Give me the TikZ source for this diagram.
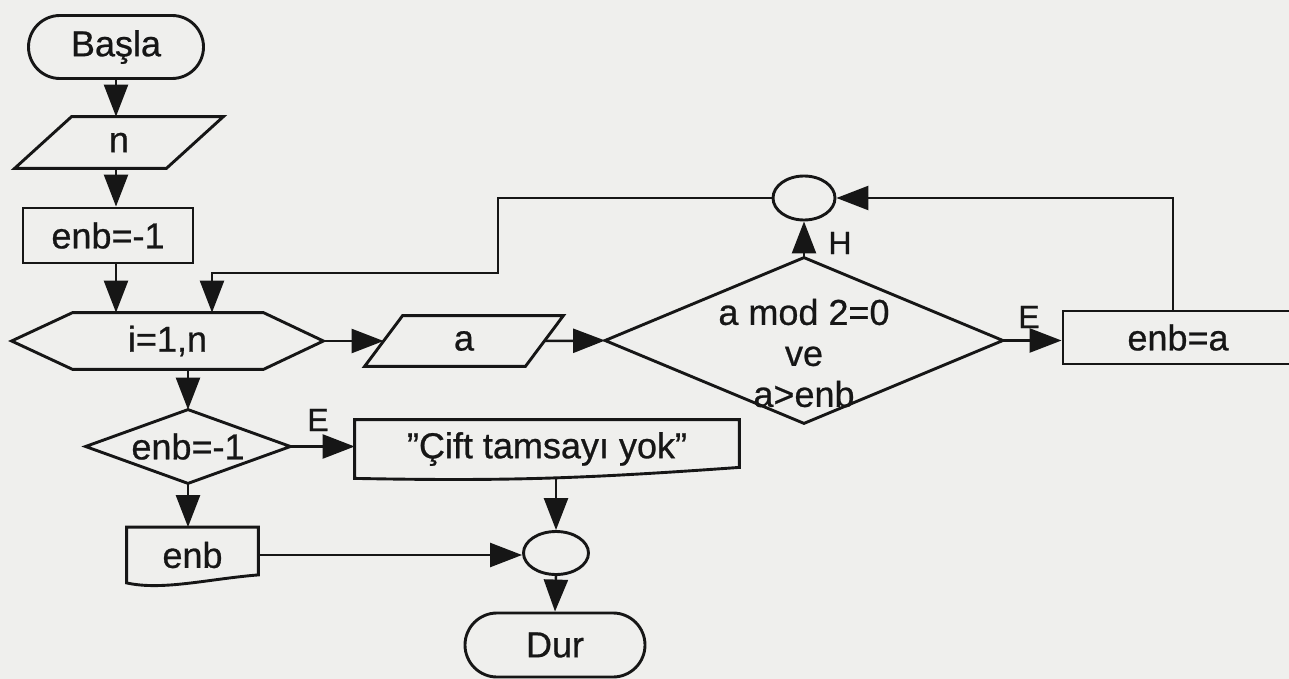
\documentclass[tikz,border=0pt]{standalone}
\usepackage{fontspec}
\setmainfont{Liberation Sans}[BoldFont={Liberation Sans},BoldFeatures={FakeBold=0.7}]
\usetikzlibrary{arrows.meta,shapes.misc,shapes.geometric}
\definecolor{paper}{RGB}{239,239,237}
\definecolor{ink}{RGB}{22,22,22}
\tikzset{
  base/.style={inner sep=0pt, font=\fontsize{18}{20.5}\selectfont\bfseries, text=ink},
  outline/.style={draw=ink, line width=1.45pt, line join=miter},
  term/.style={base, outline, rounded rectangle},
  procbox/.style={base, outline, rectangle},
  joint/.style={base, outline, ellipse},
  lab/.style={inner sep=0pt, font=\fontsize{16}{16}\selectfont\bfseries, text=ink},
  arr/.style={draw=ink, line width=1.25pt, -{Triangle[length=16pt,width=12pt]}},
  seg/.style={draw=ink, line width=1.25pt}
}
% outline helpers for shapes drawn around a bare rectangular node
\newcommand\drawpara[2]{\draw[outline] ([xshift=#2]#1.north west) -- ([xshift=#2]#1.north east) -- ([xshift=-#2]#1.south east) -- ([xshift=-#2]#1.south west) -- cycle;}
\newcommand\drawrhomb[1]{\draw[outline] (#1.west) -- (#1.north) -- (#1.east) -- (#1.south) -- cycle;}
% document symbol: right end of the bottom edge raised by #2
\newcommand\drawdoc[6]{\draw[outline] (#1.south west) -- (#1.north west) -- (#1.north east) -- ([yshift=#2]#1.south east)
   .. controls ([xshift=#5,yshift=#6]#1.south east) and ([xshift=#3,yshift=#4]#1.south west) .. (#1.south west) -- cycle;}
\begin{document}
\begin{tikzpicture}[x=0.5pt,y=-0.5pt]
\useasboundingbox (0,0) rectangle (1289,679);
\fill[paper] (0,0) rectangle (1289,679);
\clip (0,0) rectangle (1289,679);

% --- nodes ---
\node[term, minimum width=87.5pt, minimum height=31.5pt] (basla) at (116,47) {Başla};
\node[base, minimum width=75.5pt, minimum height=25.5pt] (n) at (119,142.5) {n};
\drawpara{n}{14.25pt}
\node[procbox, minimum width=85pt, minimum height=27.5pt] (enb1) at (108,235.5) {enb=-1};
\node[base, minimum width=155.5pt, minimum height=28pt] (hex) at (167.5,341) {i=1,n};
\draw[outline] (hex.west) -- ([xshift=30.5pt]hex.north west) -- ([xshift=-30pt]hex.north east) -- (hex.east)
  -- ([xshift=-30pt]hex.south east) -- ([xshift=30.5pt]hex.south west) -- cycle;
\node[base, minimum width=80pt, minimum height=25pt] (a) at (464,341) {a};
\drawpara{a}{9.5pt}
\node[base, minimum width=198.5pt, minimum height=82.5pt] (bigd) at (804,340.5) {};
\drawrhomb{bigd}
\node[base, align=center] (bigdtext) at (804,353) {a mod 2=0\\ve\\a>enb};
\node[joint, minimum width=31pt, minimum height=22pt] (c1) at (804,198) {};
\node[procbox, minimum width=115pt, minimum height=26.5pt] (enba) at (1178,337.5) {enb=a};
\node[base, minimum width=102pt, minimum height=36.5pt] (d2) at (188,446.5) {enb=-1};
\drawrhomb{d2}
\node[base, minimum width=192pt, minimum height=29pt] (cift) at (547,449) {”Çift tamsayı yok”};
\drawdoc{cift}{5.5pt}{77pt}{-1.5pt}{-77pt}{0pt}
\node[base, minimum width=65.5pt, minimum height=27.5pt] (enbout) at (192.5,555) {enb};
\drawdoc{enbout}{4pt}{18pt}{-4pt}{-25pt}{2pt}
\node[joint, minimum width=32.5pt, minimum height=21.5pt] (c2) at (556,553) {};
\node[term, minimum width=90pt, minimum height=32pt] (dur) at (555,645) {Dur};

% --- labels ---
\node[lab] (lE1) at (318,420) {E};
\node[lab] (lE2) at (1029,317) {E};
\node[lab] (lH) at (840,243) {H};

% --- helper coordinates for the loop lines ---
\coordinate (jog) at (498,273);
\coordinate (entryx) at (212,0);
\coordinate (upx) at (1173,0);

% --- connectors ---
\draw[arr] (basla.south) -- (basla.south |- n.north);
\draw[arr] (basla.south |- n.south) -- (basla.south |- enb1.north);
\draw[arr] (basla.south |- enb1.south) -- (basla.south |- hex.north);
\draw[arr] (c1.west) -| (jog) -| (hex.north -| entryx);
\draw[arr] (hex.east) -- (a.west);
\draw[arr] (a.east) -- (bigd.west);
\draw[arr] (bigd.east) -- (bigd.east -| enba.west);
\draw[arr] (enba.north -| upx) |- (c1.east);
\draw[arr] (bigd.north) -- (c1.south);
\draw[arr] (d2.north |- hex.south) -- (d2.north);
\draw[arr] (d2.east) -- (d2.east -| cift.west);
\draw[arr] (d2.south) -- (d2.south |- enbout.north);
\draw[arr] (c2.north |- cift.south) -- (c2.north);
\draw[arr] (enbout.east) -- (enbout.east -| c2.west);
\draw[arr] (c2.south) -- (dur.north);
\end{tikzpicture}
\end{document}
